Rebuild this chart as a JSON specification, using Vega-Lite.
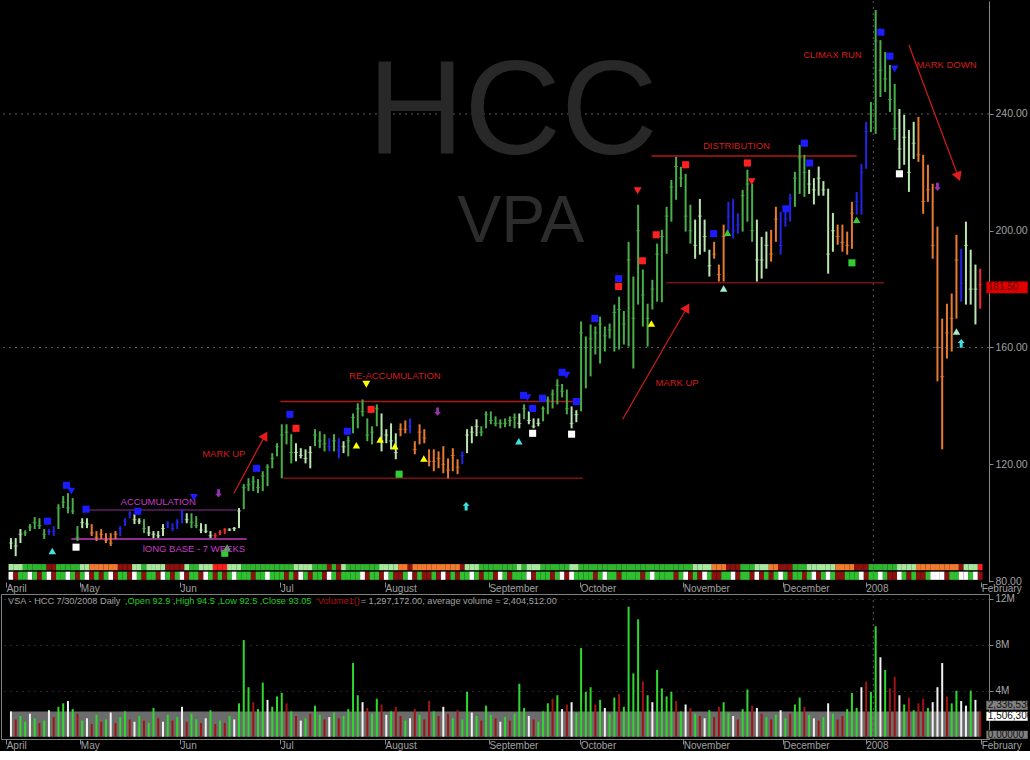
{
"$schema":"https://vega.github.io/schema/vega-lite/v6.json",
"background":"#000000",
"padding":0,
"spacing":0,
"config":{"view":{"stroke":null},"font":"Liberation Sans","axis":{"labelColor":"#a8a8a8","labelFontSize":10,"domainColor":"#8a8a8a","tickColor":"#8a8a8a","grid":false,"title":null}},
"datasets":{
"bars":[
{"i":0,"h":94.7,"l":90.9,"c":93,"k":"lg","v":2.2,"vk":"w"},
{"i":1,"h":94.7,"l":88.5,"c":92,"k":"lg","v":1.5,"vk":"r"},
{"i":2,"h":97.8,"l":93,"c":96,"k":"lg","v":1.8,"vk":"g"},
{"i":3,"h":97.4,"l":95.4,"c":96.5,"k":"g","v":1.3,"vk":"g"},
{"i":4,"h":99.5,"l":97.1,"c":98.5,"k":"g","v":2.0,"vk":"w"},
{"i":5,"h":101.9,"l":97.8,"c":100,"k":"g","v":1.6,"vk":"g"},
{"i":6,"h":101.5,"l":97.8,"c":99,"k":"g","v":1.2,"vk":"r"},
{"i":7,"h":97.8,"l":94.4,"c":96,"k":"g","v":1.4,"vk":"g"},
{"i":8,"h":97.8,"l":95.8,"c":97,"k":"b","v":2.3,"vk":"w"},
{"i":9,"h":98.8,"l":95.4,"c":97,"k":"b","v":1.7,"vk":"r"},
{"i":10,"h":106.3,"l":97.8,"c":105,"k":"g","v":2.6,"vk":"g"},
{"i":11,"h":109.1,"l":105,"c":107,"k":"g","v":2.9,"vk":"g"},
{"i":12,"h":110.1,"l":103.2,"c":105,"k":"g","v":3.1,"vk":"w"},
{"i":13,"h":108.4,"l":102.9,"c":104,"k":"g","v":2.4,"vk":"g"},
{"i":14,"h":98.8,"l":93.7,"c":95,"k":"g","v":2.0,"vk":"r"},
{"i":15,"h":101.5,"l":98.1,"c":100,"k":"lg","v":1.4,"vk":"g"},
{"i":16,"h":101.5,"l":98.1,"c":99.5,"k":"lg","v":1.6,"vk":"w"},
{"i":17,"h":99.5,"l":95.4,"c":96.5,"k":"o","v":1.1,"vk":"r"},
{"i":18,"h":97.1,"l":93.7,"c":95,"k":"o","v":1.9,"vk":"g"},
{"i":19,"h":97.8,"l":94.4,"c":96,"k":"o","v":1.3,"vk":"r"},
{"i":20,"h":96.4,"l":93,"c":94,"k":"o","v":1.5,"vk":"g"},
{"i":21,"h":96.4,"l":92,"c":93,"k":"o","v":2.1,"vk":"w"},
{"i":22,"h":97.1,"l":94.4,"c":96,"k":"o","v":1.2,"vk":"r"},
{"i":23,"h":98.8,"l":95.4,"c":98,"k":"b","v":1.7,"vk":"g"},
{"i":24,"h":101.5,"l":98.8,"c":100.5,"k":"b","v":2.2,"vk":"g"},
{"i":25,"h":103.9,"l":101.5,"c":103,"k":"b","v":1.5,"vk":"r"},
{"i":26,"h":102.9,"l":99.5,"c":101,"k":"lg","v":1.3,"vk":"w"},
{"i":27,"h":101.5,"l":99.5,"c":100.5,"k":"lg","v":1.8,"vk":"g"},
{"i":28,"h":101.2,"l":96.4,"c":98,"k":"g","v":1.4,"vk":"r"},
{"i":29,"h":98.8,"l":95.4,"c":96.5,"k":"lg","v":1.2,"vk":"g"},
{"i":30,"h":97.1,"l":94.7,"c":96,"k":"lg","v":2.5,"vk":"g"},
{"i":31,"h":97.1,"l":94.7,"c":95.5,"k":"lg","v":1.6,"vk":"r"},
{"i":32,"h":99.5,"l":95.4,"c":98,"k":"lg","v":1.3,"vk":"w"},
{"i":33,"h":100.5,"l":98.1,"c":99.5,"k":"b","v":1.9,"vk":"g"},
{"i":34,"h":99.8,"l":97.1,"c":98,"k":"b","v":1.4,"vk":"r"},
{"i":35,"h":101.2,"l":97.8,"c":100,"k":"b","v":1.7,"vk":"g"},
{"i":36,"h":104.6,"l":99.8,"c":103,"k":"b","v":2.6,"vk":"w"},
{"i":37,"h":103.2,"l":99.8,"c":101,"k":"lg","v":1.3,"vk":"r"},
{"i":38,"h":103.2,"l":98.1,"c":100,"k":"g","v":2.0,"vk":"g"},
{"i":39,"h":102.2,"l":98.1,"c":99,"k":"g","v":1.5,"vk":"g"},
{"i":40,"h":99.8,"l":96.4,"c":97.5,"k":"lg","v":1.2,"vk":"r"},
{"i":41,"h":99.5,"l":96.4,"c":97,"k":"lg","v":1.6,"vk":"w"},
{"i":42,"h":97.1,"l":94.7,"c":95.5,"k":"lg","v":2.3,"vk":"g"},
{"i":43,"h":96.4,"l":94.7,"c":95.5,"k":"r","v":1.1,"vk":"r"},
{"i":44,"h":97.4,"l":95.7,"c":96.5,"k":"r","v":1.4,"vk":"g"},
{"i":45,"h":98.1,"l":96.1,"c":97.5,"k":"r","v":1.2,"vk":"r"},
{"i":46,"h":98.1,"l":97.1,"c":97.5,"k":"lg","v":1.8,"vk":"g"},
{"i":47,"h":98.5,"l":97.1,"c":98,"k":"lg","v":1.5,"vk":"w"},
{"i":48,"h":105,"l":98.1,"c":104,"k":"lg","v":2.9,"vk":"g"},
{"i":49,"h":113.2,"l":104.6,"c":112,"k":"g","v":8.4,"vk":"g"},
{"i":50,"h":115.2,"l":110.8,"c":113,"k":"g","v":4.3,"vk":"g"},
{"i":51,"h":115.9,"l":110.8,"c":114,"k":"g","v":3.0,"vk":"r"},
{"i":52,"h":114.9,"l":110.1,"c":112,"k":"g","v":2.4,"vk":"g"},
{"i":53,"h":117.6,"l":110.8,"c":116,"k":"g","v":4.7,"vk":"g"},
{"i":54,"h":120,"l":112.5,"c":119,"k":"g","v":3.2,"vk":"w"},
{"i":55,"h":123.8,"l":118.6,"c":122,"k":"g","v":2.6,"vk":"g"},
{"i":56,"h":127.2,"l":122.7,"c":126,"k":"g","v":3.5,"vk":"g"},
{"i":57,"h":133.7,"l":115.2,"c":130,"k":"g","v":3.8,"vk":"g"},
{"i":58,"h":133.7,"l":126.8,"c":131,"k":"g","v":2.9,"vk":"r"},
{"i":59,"h":130.3,"l":120.3,"c":124,"k":"g","v":2.2,"vk":"g"},
{"i":60,"h":127.2,"l":121,"c":124,"k":"lg","v":1.8,"vk":"r"},
{"i":61,"h":125.5,"l":122,"c":123,"k":"lg","v":1.4,"vk":"w"},
{"i":62,"h":125.1,"l":120.3,"c":122,"k":"lg","v":1.6,"vk":"g"},
{"i":63,"h":126.2,"l":118.6,"c":124,"k":"lg","v":2.0,"vk":"r"},
{"i":64,"h":132,"l":126.2,"c":130,"k":"g","v":2.7,"vk":"g"},
{"i":65,"h":131.3,"l":125.5,"c":128,"k":"g","v":1.9,"vk":"g"},
{"i":66,"h":130.3,"l":124.4,"c":127,"k":"g","v":1.5,"vk":"r"},
{"i":67,"h":128.9,"l":124.4,"c":126,"k":"b","v":1.7,"vk":"w"},
{"i":68,"h":130.3,"l":124.4,"c":128,"k":"g","v":2.1,"vk":"g"},
{"i":69,"h":128.9,"l":122,"c":125,"k":"b","v":1.6,"vk":"r"},
{"i":70,"h":127.9,"l":123.8,"c":126,"k":"lg","v":1.8,"vk":"g"},
{"i":71,"h":129.6,"l":122.7,"c":128,"k":"g","v":2.4,"vk":"g"},
{"i":72,"h":137.4,"l":130.6,"c":136,"k":"g","v":6.4,"vk":"g"},
{"i":73,"h":140.9,"l":132.3,"c":139,"k":"g","v":3.6,"vk":"g"},
{"i":74,"h":142.2,"l":136.4,"c":138,"k":"g","v":3.0,"vk":"w"},
{"i":75,"h":135.7,"l":127.9,"c":130,"k":"g","v":2.5,"vk":"r"},
{"i":76,"h":133,"l":126.8,"c":131,"k":"g","v":2.0,"vk":"g"},
{"i":77,"h":140.5,"l":133,"c":139,"k":"g","v":3.3,"vk":"g"},
{"i":78,"h":137.4,"l":124.4,"c":128,"k":"lg","v":2.8,"vk":"r"},
{"i":79,"h":132,"l":127.2,"c":130,"k":"lg","v":1.9,"vk":"w"},
{"i":80,"h":134,"l":125.1,"c":128,"k":"lg","v":2.2,"vk":"g"},
{"i":81,"h":130.6,"l":121.7,"c":124,"k":"lg","v":2.6,"vk":"r"},
{"i":82,"h":134,"l":129.6,"c":132,"k":"o","v":1.8,"vk":"r"},
{"i":83,"h":135,"l":130.6,"c":132,"k":"o","v":1.4,"vk":"g"},
{"i":84,"h":135.7,"l":130.6,"c":133,"k":"b","v":1.6,"vk":"w"},
{"i":85,"h":127.9,"l":123.4,"c":125,"k":"o","v":2.4,"vk":"r"},
{"i":86,"h":133.7,"l":126.8,"c":131,"k":"o","v":1.9,"vk":"g"},
{"i":87,"h":132,"l":127.2,"c":129,"k":"o","v":1.5,"vk":"r"},
{"i":88,"h":125.1,"l":119.3,"c":121,"k":"o","v":3.1,"vk":"r"},
{"i":89,"h":125.1,"l":117.6,"c":121,"k":"o","v":2.2,"vk":"g"},
{"i":90,"h":124.4,"l":118.6,"c":122,"k":"o","v":1.8,"vk":"r"},
{"i":91,"h":126.2,"l":116.9,"c":120,"k":"o","v":2.6,"vk":"w"},
{"i":92,"h":122,"l":115.2,"c":118,"k":"o","v":2.0,"vk":"r"},
{"i":93,"h":125.5,"l":117.6,"c":123,"k":"o","v":1.6,"vk":"g"},
{"i":94,"h":121.7,"l":116.6,"c":119,"k":"o","v":2.3,"vk":"r"},
{"i":95,"h":124.4,"l":120,"c":123,"k":"b","v":1.5,"vk":"g"},
{"i":96,"h":132,"l":123.8,"c":130,"k":"lg","v":3.9,"vk":"g"},
{"i":97,"h":133,"l":127.2,"c":131,"k":"lg","v":2.1,"vk":"w"},
{"i":98,"h":135.4,"l":129.6,"c":133,"k":"lg","v":1.8,"vk":"g"},
{"i":99,"h":133,"l":129.6,"c":131,"k":"g","v":1.4,"vk":"r"},
{"i":100,"h":138.1,"l":132.3,"c":137,"k":"g","v":2.7,"vk":"g"},
{"i":101,"h":138.1,"l":133.7,"c":135,"k":"g","v":1.9,"vk":"g"},
{"i":102,"h":136.4,"l":133,"c":134,"k":"g","v":1.6,"vk":"r"},
{"i":103,"h":135.4,"l":132.3,"c":134,"k":"g","v":1.3,"vk":"w"},
{"i":104,"h":135.7,"l":132.7,"c":134,"k":"g","v":1.7,"vk":"g"},
{"i":105,"h":136.4,"l":133,"c":135,"k":"g","v":1.4,"vk":"r"},
{"i":106,"h":137.4,"l":132.3,"c":136,"k":"g","v":2.0,"vk":"g"},
{"i":107,"h":137.4,"l":132.3,"c":134,"k":"lg","v":4.6,"vk":"g"},
{"i":108,"h":140.5,"l":135.4,"c":139,"k":"g","v":2.5,"vk":"g"},
{"i":109,"h":138.1,"l":133.7,"c":135,"k":"lg","v":1.8,"vk":"w"},
{"i":110,"h":135.7,"l":132.3,"c":133,"k":"lg","v":1.5,"vk":"r"},
{"i":111,"h":135.7,"l":133,"c":134,"k":"lg","v":1.3,"vk":"g"},
{"i":112,"h":139.8,"l":134.7,"c":139,"k":"g","v":2.2,"vk":"g"},
{"i":113,"h":143.2,"l":137.1,"c":142,"k":"g","v":2.9,"vk":"g"},
{"i":114,"h":145.6,"l":139.1,"c":144,"k":"g","v":3.3,"vk":"r"},
{"i":115,"h":149.1,"l":140.5,"c":147,"k":"g","v":3.6,"vk":"g"},
{"i":116,"h":147.5,"l":142.9,"c":145,"k":"g","v":2.4,"vk":"w"},
{"i":117,"h":145.6,"l":137.1,"c":139,"k":"g","v":2.8,"vk":"r"},
{"i":118,"h":139.8,"l":132.3,"c":134,"k":"lg","v":3.0,"vk":"w"},
{"i":119,"h":138.5,"l":134.4,"c":137,"k":"lg","v":2.1,"vk":"g"},
{"i":120,"h":168.9,"l":138.1,"c":165,"k":"g","v":7.7,"vk":"g"},
{"i":121,"h":163.8,"l":146,"c":160,"k":"g","v":3.9,"vk":"g"},
{"i":122,"h":167.9,"l":150.1,"c":163,"k":"g","v":4.3,"vk":"g"},
{"i":123,"h":167.2,"l":157.6,"c":165,"k":"g","v":2.8,"vk":"r"},
{"i":124,"h":170.6,"l":154.5,"c":168,"k":"g","v":3.2,"vk":"g"},
{"i":125,"h":167.2,"l":158.6,"c":164,"k":"g","v":2.5,"vk":"w"},
{"i":126,"h":168.2,"l":163.1,"c":166,"k":"g","v":2.0,"vk":"g"},
{"i":127,"h":174.7,"l":158.6,"c":172,"k":"g","v":3.4,"vk":"g"},
{"i":128,"h":177.4,"l":159.3,"c":173,"k":"g","v":3.7,"vk":"r"},
{"i":129,"h":172.5,"l":161,"c":168,"k":"g","v":2.6,"vk":"g"},
{"i":130,"h":196.2,"l":160.3,"c":190,"k":"g","v":11.3,"vk":"g"},
{"i":131,"h":184.3,"l":152.8,"c":170,"k":"g","v":5.5,"vk":"g"},
{"i":132,"h":208.9,"l":174.7,"c":200,"k":"g","v":10.2,"vk":"g"},
{"i":133,"h":186.7,"l":167.2,"c":178,"k":"g","v":4.8,"vk":"r"},
{"i":134,"h":175,"l":160.3,"c":170,"k":"g","v":3.6,"vk":"g"},
{"i":135,"h":183.2,"l":173,"c":180,"k":"g","v":3.0,"vk":"w"},
{"i":136,"h":195.6,"l":175.7,"c":192,"k":"g","v":5.8,"vk":"g"},
{"i":137,"h":200.3,"l":175.5,"c":198,"k":"g","v":4.2,"vk":"g"},
{"i":138,"h":208.2,"l":192.1,"c":205,"k":"g","v":3.5,"vk":"g"},
{"i":139,"h":217.4,"l":203.1,"c":215,"k":"g","v":3.9,"vk":"g"},
{"i":140,"h":225.3,"l":210.6,"c":222,"k":"g","v":3.1,"vk":"r"},
{"i":141,"h":221.9,"l":215,"c":218,"k":"g","v":2.2,"vk":"g"},
{"i":142,"h":219.5,"l":199.7,"c":205,"k":"g","v":2.8,"vk":"w"},
{"i":143,"h":208.9,"l":195.6,"c":200,"k":"g","v":2.5,"vk":"r"},
{"i":144,"h":203.8,"l":190.4,"c":195,"k":"lg","v":2.0,"vk":"g"},
{"i":145,"h":210.9,"l":191.8,"c":205,"k":"lg","v":1.8,"vk":"r"},
{"i":146,"h":203.8,"l":192.8,"c":198,"k":"lg","v":1.6,"vk":"w"},
{"i":147,"h":193.5,"l":184.3,"c":188,"k":"lg","v":2.3,"vk":"g"},
{"i":148,"h":196.2,"l":190.4,"c":192,"k":"o","v":1.7,"vk":"r"},
{"i":149,"h":188.4,"l":182.6,"c":185,"k":"o","v":2.6,"vk":"r"},
{"i":150,"h":202.1,"l":182.6,"c":198,"k":"o","v":3.0,"vk":"g"},
{"i":151,"h":209.9,"l":199.7,"c":205,"k":"b","v":2.1,"vk":"g"},
{"i":152,"h":210.9,"l":197.3,"c":200,"k":"b","v":1.8,"vk":"w"},
{"i":153,"h":206,"l":199,"c":202,"k":"b","v":1.5,"vk":"r"},
{"i":154,"h":214,"l":199.7,"c":212,"k":"g","v":2.4,"vk":"g"},
{"i":155,"h":220.9,"l":203.1,"c":216,"k":"g","v":4.1,"vk":"g"},
{"i":156,"h":216.1,"l":196.2,"c":200,"k":"g","v":2.7,"vk":"r"},
{"i":157,"h":203.8,"l":182.6,"c":190,"k":"lg","v":2.5,"vk":"w"},
{"i":158,"h":197.9,"l":183.6,"c":190,"k":"lg","v":2.0,"vk":"r"},
{"i":159,"h":199.7,"l":187,"c":195,"k":"lg","v":1.7,"vk":"g"},
{"i":160,"h":200.3,"l":189.4,"c":192,"k":"o","v":1.5,"vk":"r"},
{"i":161,"h":208.2,"l":196.2,"c":204,"k":"o","v":1.9,"vk":"g"},
{"i":162,"h":206.5,"l":191.8,"c":195,"k":"b","v":2.3,"vk":"w"},
{"i":163,"h":207.2,"l":201.4,"c":204,"k":"b","v":1.6,"vk":"g"},
{"i":164,"h":212.6,"l":203.1,"c":211,"k":"b","v":2.0,"vk":"r"},
{"i":165,"h":220.2,"l":208.2,"c":218,"k":"g","v":2.8,"vk":"g"},
{"i":166,"h":229.4,"l":212.6,"c":225,"k":"g","v":3.4,"vk":"g"},
{"i":167,"h":226,"l":211.6,"c":220,"k":"g","v":2.6,"vk":"r"},
{"i":168,"h":220.9,"l":212.6,"c":216,"k":"lg","v":1.9,"vk":"g"},
{"i":169,"h":218,"l":209,"c":214,"k":"lg","v":1.6,"vk":"w"},
{"i":170,"h":222,"l":212,"c":218,"k":"lg","v":1.4,"vk":"r"},
{"i":171,"h":217,"l":212,"c":214,"k":"lg","v":1.7,"vk":"g"},
{"i":172,"h":214.4,"l":185.3,"c":192,"k":"lg","v":2.9,"vk":"w"},
{"i":173,"h":206.1,"l":192.8,"c":200,"k":"lg","v":2.0,"vk":"g"},
{"i":174,"h":202.1,"l":195.2,"c":198,"k":"o","v":1.5,"vk":"r"},
{"i":175,"h":202.1,"l":192.8,"c":196,"k":"o","v":1.8,"vk":"r"},
{"i":176,"h":199.7,"l":191.8,"c":195,"k":"o","v":2.4,"vk":"g"},
{"i":177,"h":209.9,"l":193.8,"c":206,"k":"o","v":3.8,"vk":"g"},
{"i":178,"h":213.3,"l":205.5,"c":210,"k":"b","v":2.5,"vk":"g"},
{"i":179,"h":222.9,"l":205.5,"c":220,"k":"b","v":4.3,"vk":"w"},
{"i":180,"h":237.3,"l":221.2,"c":234,"k":"b","v":4.8,"vk":"r"},
{"i":181,"h":244.1,"l":233.8,"c":240,"k":"g","v":3.9,"vk":"g"},
{"i":182,"h":275.6,"l":233.2,"c":265,"k":"g","v":9.6,"vk":"g"},
{"i":183,"h":265.3,"l":245.8,"c":255,"k":"g","v":6.9,"vk":"w"},
{"i":184,"h":261.2,"l":247.5,"c":252,"k":"g","v":5.8,"vk":"g"},
{"i":185,"h":256.8,"l":240.7,"c":245,"k":"g","v":4.2,"vk":"r"},
{"i":186,"h":250.3,"l":231.1,"c":235,"k":"g","v":5.2,"vk":"r"},
{"i":187,"h":241.7,"l":221.2,"c":228,"k":"lg","v":3.6,"vk":"w"},
{"i":188,"h":239.7,"l":222.6,"c":232,"k":"lg","v":2.8,"vk":"g"},
{"i":189,"h":234.5,"l":213.3,"c":220,"k":"lg","v":3.4,"vk":"r"},
{"i":190,"h":237.3,"l":224.6,"c":230,"k":"lg","v":2.3,"vk":"g"},
{"i":191,"h":239,"l":223.6,"c":226,"k":"o","v":2.9,"vk":"r"},
{"i":192,"h":226,"l":205.8,"c":210,"k":"o","v":3.3,"vk":"r"},
{"i":193,"h":222.6,"l":209.9,"c":214,"k":"o","v":2.5,"vk":"g"},
{"i":194,"h":216.1,"l":190.4,"c":195,"k":"o","v":3.0,"vk":"w"},
{"i":195,"h":201.4,"l":148.4,"c":160,"k":"o","v":4.3,"vk":"w"},
{"i":196,"h":169.9,"l":125.1,"c":150,"k":"o","v":6.4,"vk":"w"},
{"i":197,"h":175,"l":156.2,"c":165,"k":"o","v":3.5,"vk":"r"},
{"i":198,"h":178.5,"l":158.6,"c":170,"k":"o","v":2.9,"vk":"g"},
{"i":199,"h":198.6,"l":169.9,"c":190,"k":"o","v":4.0,"vk":"g"},
{"i":200,"h":193.8,"l":175.7,"c":182,"k":"b","v":3.1,"vk":"w"},
{"i":201,"h":203.1,"l":174.7,"c":195,"k":"lg","v":2.7,"vk":"w"},
{"i":202,"h":193.5,"l":174.7,"c":180,"k":"lg","v":4.0,"vk":"g"},
{"i":203,"h":188.4,"l":167.9,"c":180,"k":"lg","v":3.2,"vk":"w"},
{"i":204,"h":187,"l":173.3,"c":181.5,"k":"r","v":2.2,"vk":"r"}
],
"sig":[
{"i":7.7,"p":100.5,"s":"sq","k":"b"},{"i":11.7,"p":112.8,"s":"sq","k":"b"},{"i":12.7,"p":110.8,"s":"td","k":"b"},
{"i":8.7,"p":90.3,"s":"tu","k":"c"},{"i":15.8,"p":104.6,"s":"sq","k":"b"},{"i":13.7,"p":91.6,"s":"sq","k":"w"},
{"i":26.7,"p":103.9,"s":"sq","k":"b"},{"i":38.5,"p":108.6,"s":"td","k":"b"},{"i":43.7,"p":110,"s":"ad","k":"p"},
{"i":45.5,"p":91.5,"s":"tu","k":"g"},{"i":45,"p":89.5,"s":"sq","k":"g"},{"i":51.7,"p":118.6,"s":"sq","k":"b"},
{"i":58.7,"p":137.1,"s":"sq","k":"b"},{"i":60,"p":132.3,"s":"sq","k":"r"},{"i":70.8,"p":131.3,"s":"sq","k":"b"},
{"i":72.7,"p":126.5,"s":"tu","k":"y"},{"i":74.8,"p":147.4,"s":"td","k":"y"},{"i":75.8,"p":138.8,"s":"sq","k":"r"},
{"i":77.7,"p":128.5,"s":"tu","k":"y"},{"i":80.8,"p":126.2,"s":"tu","k":"y"},{"i":89.8,"p":138,"s":"ad","k":"p"},
{"i":86.9,"p":122,"s":"tu","k":"y"},{"i":81.7,"p":116.6,"s":"sq","k":"g"},{"i":95.8,"p":105.6,"s":"au","k":"c"},
{"i":106.9,"p":127.9,"s":"tu","k":"c"},{"i":107.9,"p":143.6,"s":"sq","k":"b"},{"i":108.7,"p":142.8,"s":"td","k":"b"},
{"i":109.8,"p":139.1,"s":"sq","k":"b"},{"i":109.8,"p":130.6,"s":"sq","k":"w"},{"i":111.9,"p":142.6,"s":"sq","k":"b"},
{"i":116,"p":151.5,"s":"sq","k":"b"},{"i":116.9,"p":150.5,"s":"td","k":"b"},{"i":118,"p":130.3,"s":"sq","k":"w"},
{"i":119,"p":141.5,"s":"sq","k":"b"},{"i":122.9,"p":169.9,"s":"sq","k":"b"},{"i":127.9,"p":183.6,"s":"sq","k":"b"},
{"i":127.9,"p":180.9,"s":"sq","k":"r"},{"i":131.9,"p":213.7,"s":"td","k":"r"},{"i":132.9,"p":189.7,"s":"sq","k":"r"},
{"i":134.8,"p":168.2,"s":"tu","k":"y"},{"i":135.8,"p":198.6,"s":"sq","k":"r"},{"i":142,"p":222.6,"s":"sq","k":"r"},
{"i":147.9,"p":199,"s":"sq","k":"b"},{"i":150.8,"p":199.3,"s":"tu","k":"g"},{"i":150,"p":180.2,"s":"tu","k":"m"},
{"i":155,"p":223.2,"s":"sq","k":"r"},{"i":155.9,"p":216.8,"s":"td","k":"r"},{"i":163.1,"p":207.5,"s":"sq","k":"b"},
{"i":167,"p":230,"s":"sq","k":"b"},{"i":168.1,"p":223.2,"s":"sq","k":"b"},{"i":177,"p":189,"s":"sq","k":"g"},
{"i":178,"p":203.8,"s":"tu","k":"g"},{"i":183.1,"p":268,"s":"sq","k":"b"},{"i":185,"p":259.8,"s":"sq","k":"b"},
{"i":186,"p":255.4,"s":"td","k":"b"},{"i":187,"p":219.5,"s":"sq","k":"w"},{"i":195,"p":215,"s":"ad","k":"p"},
{"i":199,"p":165.5,"s":"tu","k":"m"},{"i":200,"p":161.4,"s":"au","k":"c"}
],
"notes":[
{"i":31,"p":107.2,"t":"ACCUMULATION","k":"m"},
{"i":38.5,"p":90.8,"t":"lONG BASE - 7 WEEKS","k":"m"},
{"i":44.8,"p":123.4,"t":"MARK UP","k":"r"},
{"i":80.8,"p":150.4,"t":"RE-ACCUMULATION","k":"r"},
{"i":140.2,"p":147.7,"t":"MARK UP","k":"r"},
{"i":152.7,"p":228.9,"t":"DISTRIBUTION","k":"r"},
{"i":172.9,"p":260.2,"t":"CLIMAX RUN","k":"r"},
{"i":196.9,"p":256.8,"t":"MARK DOWN","k":"r"}
],
"hl":[
{"i":15.8,"i2":47.5,"p":104.3,"k":"pd"},
{"i":12.7,"i2":49.6,"p":94.4,"k":"m"},
{"i":56.7,"i2":119.8,"p":141.5,"k":"r"},
{"i":57.3,"i2":120.4,"p":115.2,"k":"dr"},
{"i":134.8,"i2":178,"p":225.6,"k":"r"},
{"i":137.9,"i2":183.8,"p":182.2,"k":"dr"}
],
"arr":[
{"i":46.9,"p":110,"i2":53.5,"p2":129.9,"d":"u"},
{"i":128.75,"p":135.4,"i2":142.3,"p2":173.7,"d":"u"},
{"i":189,"p":263.6,"i2":199.4,"p2":218.5,"d":"d"}
]
},
"vconcat":[
{
"width":988,"height":581,
"resolve":{"scale":{"color":"independent","fill":"independent"}},
"layer":[
{"data":{"values":[{"g":160},{"g":240}]},"mark":{"type":"rule","color":"#5a5a5a","strokeDash":[2,4],"strokeWidth":1},
 "encoding":{"y":{"field":"g","type":"quantitative","scale":{"domain":[79.66,278.7],"nice":false,"zero":false}}}},
{"data":{"values":[{"x":181.5}]},"mark":{"type":"rule","color":"#5a5a5a","strokeDash":[2,4],"strokeWidth":1},
 "encoding":{"x":{"field":"x","type":"quantitative","scale":{"domain":[-1.04,204.8],"nice":false,"zero":false}}}},
{"data":{"values":[{}]},"mark":{"type":"text","text":"HCC","fontSize":134,"color":"#282828","align":"center","baseline":"alphabetic","font":"Liberation Sans"},
 "encoding":{"x":{"datum":105.6,"type":"quantitative"},"y":{"datum":226.3,"type":"quantitative"}}},
{"data":{"values":[{}]},"mark":{"type":"text","text":"VPA","fontSize":66,"color":"#2c2c2c","align":"center","baseline":"alphabetic","font":"Liberation Sans"},
 "encoding":{"x":{"datum":107.3,"type":"quantitative"},"y":{"datum":196.2,"type":"quantitative"}}},
{"data":{"name":"bars"},"mark":{"type":"bar","size":4.8},
 "encoding":{"x":{"field":"i","type":"quantitative"},"y":{"datum":85.8,"type":"quantitative"},"y2":{"datum":83.7},
  "color":{"field":"k","type":"nominal","scale":{"domain":["g","lg","b","o","r"],"range":["#2fb52f","#a9e6a0","#8b1010","#f07a30","#ff1e1e"]},"legend":null}}},
{"data":{"name":"bars"},"mark":{"type":"bar","size":4.8},
 "encoding":{"x":{"field":"i","type":"quantitative"},"y":{"datum":83.2,"type":"quantitative"},"y2":{"datum":80.4},
  "color":{"field":"vk","type":"nominal","scale":{"domain":["g","r","w"],"range":["#2fc02f","#8b1010","#ffffff"]},"legend":null}}},
{"data":{"name":"hl"},"mark":{"type":"rule","strokeWidth":1.5},
 "encoding":{"x":{"field":"i","type":"quantitative"},"x2":{"field":"i2"},"y":{"field":"p","type":"quantitative"},
 "color":{"field":"k","type":"nominal","scale":{"domain":["pd","m","r","dr"],"range":["#5e1f63","#c23cc2","#b01818","#7a1010"]},"legend":null}}},
{"data":{"name":"bars"},"mark":{"type":"rule","strokeWidth":2},
 "encoding":{"x":{"field":"i","type":"quantitative","scale":{"domain":[-1.04,204.8],"nice":false,"zero":false},
   "axis":{"orient":"bottom","title":null,"values":[-1,14.6,35.6,56.7,78.75,100.6,119.8,141.5,162.5,179.9,204.2],
   "labelExpr":"datum.value==-1?'April':datum.value==14.6?'May':datum.value==35.6?'Jun':datum.value==56.7?'Jul':datum.value==78.75?'August':datum.value==100.6?'September':datum.value==119.8?'October':datum.value==141.5?'November':datum.value==162.5?'December':datum.value==179.9?'2008':'February'",
   "domain":false,"tickSize":5,"labelAlign":"left","labelBaseline":"top","labelPadding":-4,"labelDx":3,"labelFlush":false,"labelOverlap":false,"labelColor":"#a0a0a0"}},
  "y":{"field":"l","type":"quantitative","scale":{"domain":[79.66,278.7],"nice":false,"zero":false},
   "axis":{"orient":"right","title":null,"values":[80,120,160,200,240],"format":".2f","tickSize":4,"labelPadding":2,"domain":true,"labelColor":"#a0a0a0","labelFontSize":10.5}},
  "y2":{"field":"h"},
  "color":{"field":"k","type":"nominal","scale":{"domain":["g","lg","b","o","r"],"range":["#4aae4a","#b8e6ae","#2424e8","#e57a30","#f02a2a"]},"legend":null}}},
{"data":{"name":"bars"},"mark":{"type":"tick","orient":"horizontal","size":4,"thickness":1},
 "encoding":{"x":{"field":"i","type":"quantitative"},"y":{"field":"c","type":"quantitative"},
  "color":{"field":"k","type":"nominal","scale":{"domain":["g","lg","b","o","r"],"range":["#4aae4a","#b8e6ae","#2424e8","#e57a30","#f02a2a"]},"legend":null}}},
{"data":{"name":"sig"},"mark":{"type":"point","filled":true,"opacity":1,"strokeWidth":0},
 "encoding":{"x":{"field":"i","type":"quantitative"},"y":{"field":"p","type":"quantitative"},
  "shape":{"field":"s","type":"nominal","scale":{"domain":["sq","tu","td","ad","au"],"range":["square","triangle-up","triangle-down","M-0.35,-1H0.35V0.1H0.8L0,1L-0.8,0.1H-0.35Z","M-0.35,1H0.35V-0.1H0.8L0,-1L-0.8,-0.1H-0.35Z"]},"legend":null},
  "size":{"field":"s","type":"nominal","scale":{"domain":["sq","tu","td","ad","au"],"range":[50,75,75,130,130]},"legend":null},
  "fill":{"field":"k","type":"nominal","scale":{"domain":["b","r","y","c","w","g","p","m"],"range":["#1c1cff","#ff2020","#ffff00","#40e0e0","#ffffff","#33cc33","#9a30b0","#a0f0d0"]},"legend":null}}},
{"data":{"name":"notes"},"mark":{"type":"text","fontSize":9.5,"font":"Liberation Sans","align":"center","baseline":"middle"},
 "encoding":{"x":{"field":"i","type":"quantitative"},"y":{"field":"p","type":"quantitative"},"text":{"field":"t"},
  "color":{"field":"k","type":"nominal","scale":{"domain":["m","r"],"range":["#c83cc8","#d41c1c"]},"legend":null}}},
{"data":{"name":"arr"},"mark":{"type":"rule","color":"#d41c1c","strokeWidth":1.2},
 "encoding":{"x":{"field":"i","type":"quantitative"},"y":{"field":"p","type":"quantitative"},"x2":{"field":"i2"},"y2":{"field":"p2"}}},
{"data":{"name":"arr"},"transform":[{"filter":"datum.d=='u'"}],"mark":{"type":"point","shape":"triangle-up","filled":true,"color":"#e01c1c","size":110,"angle":30,"opacity":1},
 "encoding":{"x":{"field":"i2","type":"quantitative"},"y":{"field":"p2","type":"quantitative"}}},
{"data":{"name":"arr"},"transform":[{"filter":"datum.d=='d'"}],"mark":{"type":"point","shape":"triangle-down","filled":true,"color":"#e01c1c","size":110,"angle":339,"opacity":1},
 "encoding":{"x":{"field":"i2","type":"quantitative"},"y":{"field":"p2","type":"quantitative"}}},
{"data":{"values":[{}]},"mark":{"type":"rect","color":"#e00000"},
 "encoding":{"x":{"datum":205.3,"type":"quantitative"},"x2":{"datum":214},"y":{"datum":182.6,"type":"quantitative"},"y2":{"datum":178.6}}},
{"data":{"values":[{}]},"mark":{"type":"text","text":"181.50","fontSize":10,"color":"#5a0000","align":"left","baseline":"middle"},
 "encoding":{"x":{"datum":205.6,"type":"quantitative"},"y":{"datum":180.6,"type":"quantitative"}}}
]
},
{
"width":988,"height":145,
"view":{"stroke":"#808080"},
"resolve":{"scale":{"color":"independent"}},
"layer":[
{"data":{"name":"bars"},"mark":{"type":"area","color":"#6c6c6c"},
 "encoding":{"x":{"field":"i","type":"quantitative","scale":{"domain":[-1.04,204.8],"nice":false,"zero":false},
   "axis":{"orient":"bottom","title":null,"values":[-1,14.6,35.6,56.7,78.75,100.6,119.8,141.5,162.5,179.9,204.2],
   "labelExpr":"datum.value==-1?'April':datum.value==14.6?'May':datum.value==35.6?'Jun':datum.value==56.7?'Jul':datum.value==78.75?'August':datum.value==100.6?'September':datum.value==119.8?'October':datum.value==141.5?'November':datum.value==162.5?'December':datum.value==179.9?'2008':'February'",
   "domain":false,"tickSize":5,"labelAlign":"left","labelBaseline":"top","labelPadding":-4,"labelDx":3,"labelFlush":false,"labelOverlap":false,"labelColor":"#a0a0a0"}},
  "y":{"datum":2.2,"type":"quantitative","scale":{"domain":[-0.2,12.4],"nice":false,"zero":false},
   "axis":{"orient":"right","title":null,"values":[4,6,8,10,12],"labelExpr":"datum.value+'M'","tickSize":4,"labelPadding":2,"domain":false,"grid":true,"gridColor":"#4a4a4a","gridDash":[1,5]}}}},
{"data":{"values":[{"x":181.5}]},"mark":{"type":"rule","color":"#5a5a5a","strokeDash":[2,4],"strokeWidth":1},
 "encoding":{"x":{"field":"x","type":"quantitative"}}},
{"data":{"name":"bars"},"mark":{"type":"bar","size":2},
 "encoding":{"x":{"field":"i","type":"quantitative"},"y":{"field":"v","type":"quantitative"},"y2":{"datum":0},
  "color":{"field":"vk","type":"nominal","scale":{"domain":["g","r","w"],"range":["#2ed82e","#a01414","#f2f2f2"]},"legend":null}}},
{"data":{"values":[{"t":"VSA - HCC  7/30/2008  Daily","x":-0.6,"k":"a"},{"t":",Open 92.9 ,High 94.5 ,Low 92.5 ,Close 93.05","x":24.0,"k":"b"},{"t":"Volume1()","x":64.6,"k":"c"},{"t":"= 1,297,172.00, average volume = 2,404,512.00","x":73.6,"k":"a"}]},
 "mark":{"type":"text","fontSize":9.2,"align":"left","baseline":"middle"},
 "encoding":{"x":{"field":"x","type":"quantitative"},"y":{"datum":11.8,"type":"quantitative"},"text":{"field":"t"},
  "color":{"field":"k","type":"nominal","scale":{"domain":["a","b","c"],"range":["#a0a0a0","#22cc22","#b01010"]},"legend":null}}},
{"data":{"values":[{"a":3.13,"b":2.35,"f":"g"},{"a":2.17,"b":1.39,"f":"w"},{"a":0.52,"b":-0.17,"f":"g"}]},"mark":{"type":"rect"},
 "encoding":{"x":{"datum":205.3,"type":"quantitative"},"x2":{"datum":214},"y":{"field":"a","type":"quantitative"},"y2":{"field":"b"},
  "color":{"field":"f","type":"nominal","scale":{"domain":["g","w"],"range":["#808080","#ffffff"]},"legend":null}}},
{"data":{"values":[{"t":"2,336,530","y":2.74},{"t":"1,506,300","y":1.78},{"t":"0.00000","y":0.17}]},"mark":{"type":"text","fontSize":10,"align":"left","baseline":"middle","color":"#101010"},
 "encoding":{"x":{"datum":205.6,"type":"quantitative"},"y":{"field":"y","type":"quantitative"},"text":{"field":"t"}}}
]
}
]
}
